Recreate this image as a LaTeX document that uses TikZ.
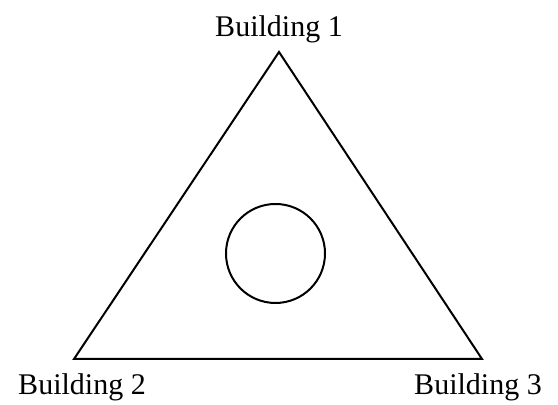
\documentclass[tikz,border=0pt]{standalone}
\usepackage{fontspec}
\setmainfont{Liberation Serif}
\usepackage{tikz}
\usetikzlibrary{positioning}
\tikzset{
  every picture/.style = {line join=miter, line cap=butt},
  building label/.style = {
    font=\fontsize{15}{18}\selectfont,
    anchor=base,
    inner sep=0pt
  },
  link/.style = {draw=black, line width=1.0pt},
  hub/.style = {
    circle,
    draw=black,
    line width=1.0pt,
    minimum size=99pt*0.5,
    inner sep=0pt
  },
}
\begin{document}
\begin{tikzpicture}[x=0.5pt,y=0.5pt]
  \useasboundingbox (0,0) rectangle (558,405);

  \coordinate (top) at (279,353);
  \coordinate (left) at (74,46);
  \coordinate (right) at (482,46);

  \node[building label] (bldg1) at (279,368) {Building 1};
  \node[building label] (bldg2) at (82,10) {Building 2};
  \node[building label] (bldg3) at (478,10) {Building 3};

  \node[hub] (center) at (275.5,151.5) {};

  \draw[link] (top) -- (left) -- (right) -- cycle;
\end{tikzpicture}
\end{document}
